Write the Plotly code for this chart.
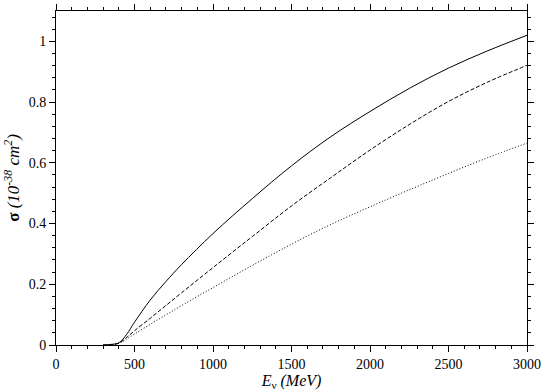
import plotly.graph_objects as go

energy = [300, 350, 400, 450, 500, 600, 700, 800, 1000, 1250, 1500, 1750, 2000, 2250, 2500, 2750, 3000]
sigma_solid = [0.0, 0.002, 0.007, 0.035, 0.075, 0.148, 0.209, 0.265, 0.367, 0.482, 0.59, 0.686, 0.769, 0.845, 0.912, 0.969, 1.02]
sigma_dashed = [0.0, 0.001, 0.006, 0.025, 0.047, 0.088, 0.13, 0.172, 0.255, 0.357, 0.458, 0.551, 0.642, 0.726, 0.802, 0.866, 0.921]
sigma_dotted = [0.0, 0.001, 0.005, 0.02, 0.036, 0.068, 0.099, 0.13, 0.189, 0.262, 0.332, 0.397, 0.455, 0.511, 0.565, 0.617, 0.665]

fig = go.Figure()
for ys, dash in [(sigma_solid, "solid"), (sigma_dashed, "4px,2px"), (sigma_dotted, "1px,2px")]:
    fig.add_trace(go.Scatter(x=energy, y=ys, mode="lines",
                             line=dict(color="black", width=1, dash=dash, shape="spline", smoothing=1.0),
                             showlegend=False, hoverinfo="skip"))

font = dict(family="Liberation Serif, Times New Roman, serif", size=14, color="black")
axis_common = dict(
    showgrid=False, zeroline=False, showline=True, linecolor="black", linewidth=1,
    mirror="ticks", ticks="outside", ticklen=6, tickcolor="black", tickwidth=1,
    tickfont=font, automargin=False,
)
fig.update_layout(
    width=543, height=391,
    margin=dict(l=56, r=16, t=11, b=46),
    paper_bgcolor="white", plot_bgcolor="white",
    font=font,
)
fig.update_xaxes(
    range=[0, 3000], tickmode="linear", tick0=0, dtick=500,
    minor=dict(dtick=100, tick0=0, ticks="outside", ticklen=3, tickcolor="black", tickwidth=1, showgrid=False),
    title=dict(text="<i>E</i><sub>ν</sub> <i>(MeV)</i>", standoff=1, font=dict(size=16)),
    **axis_common,
)
fig.update_yaxes(
    range=[0, 1.1], tickmode="linear", tick0=0, dtick=0.2,
    minor=dict(dtick=0.04, tick0=0, ticks="outside", ticklen=3, tickcolor="black", tickwidth=1, showgrid=False),
    title=dict(text="<b>σ</b> <i>(10<sup>-38</sup> cm<sup>2</sup>)</i>", standoff=4, font=dict(size=17)),
    **axis_common,
)
fig.write_html("out.html", config={"displayModeBar": False},
               post_script="document.body.style.margin='0';document.body.style.overflow='hidden';")
